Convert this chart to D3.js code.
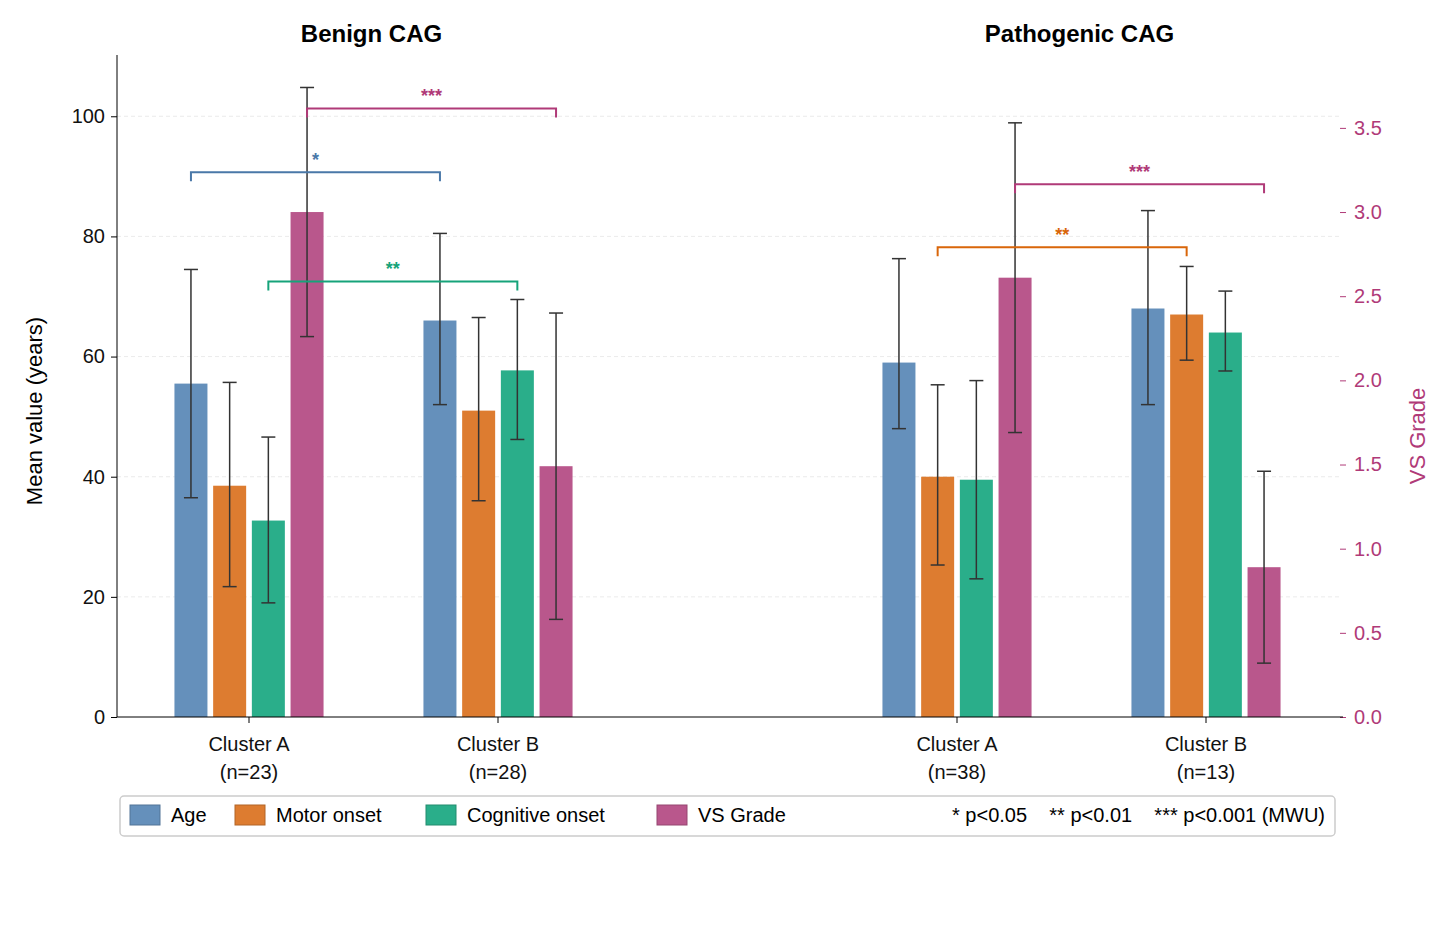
<!DOCTYPE html>
<html>
<head>
<meta charset="utf-8">
<script src="https://cdn.jsdelivr.net/npm/d3@7/dist/d3.min.js"></script>
<style>
  body { margin: 0; background: #fff; font-family: "Liberation Sans", Arial, sans-serif; }
</style>
</head>
<body>
<svg id="chart" width="1436" height="925"></svg>
<script>
const panels = ["Benign CAG", "Pathogenic CAG"];
const clusters = ["Cluster A", "Cluster B"];
const groupNs = [[23, 28], [38, 13]];
const measures = ["Age", "Motor onset", "Cognitive onset"];
const colors = ["#6590bb", "#dd7c30", "#2aae8a", "#b9578c"];

// [panel][cluster] -> [mean, low, high] for the left-axis measures
const ageVals   = [[[55.5, 36.5, 74.5], [66.0, 52.0, 80.5]], [[59.0, 48.0, 76.3], [68.0, 52.0, 84.3]]];
const motorVals = [[[38.5, 21.7, 55.7], [51.0, 36.0, 66.5]], [[40.0, 25.3, 55.3], [67.0, 59.4, 75.0]]];
const cogVals   = [[[32.7, 19.0, 46.6], [57.7, 46.2, 69.5]], [[39.5, 23.0, 56.0], [64.0, 57.6, 70.9]]];
// VS grade (right axis): [mean, sd]
const vsVals    = [[[3.00, 0.74], [1.49, 0.91]], [[2.61, 0.92], [0.89, 0.57]]];

// significance brackets: panel, bar index, level (left units), label, colour
const brackets = [
  {panel: 0, bar: 0, level: 90.7, label: "*",   color: "#4a78a8"},
  {panel: 0, bar: 2, level: 72.5, label: "**",  color: "#16a37a"},
  {panel: 0, bar: 3, level: 101.3, label: "***", color: "#b03a78"},
  {panel: 1, bar: 1, level: 78.2, label: "**",  color: "#d9660a"},
  {panel: 1, bar: 3, level: 88.7, label: "***", color: "#b03a78"}
];
const leftTicks = [0, 20, 40, 60, 80, 100];
const rightTicks = [0, 0.5, 1, 1.5, 2, 2.5, 3, 3.5];

const svg = d3.select("#chart");
const pLeft = 117, pRight = 1340, pTop = 55, pBottom = 717;

const y = d3.scaleLinear().domain([0, 110.2]).range([pBottom, pTop]);
const yR = d3.scaleLinear().domain([0, 3.933]).range([pBottom, pTop]);
const centers = [249, 498, 957, 1206];
const bw = 33, step = 38.7;
const barX = (g, i) => centers[g] + (i - 1.5) * step;

// grid
svg.append("g").selectAll("line").data(leftTicks.slice(1)).join("line")
  .attr("x1", pLeft).attr("x2", pRight).attr("y1", d => y(d)).attr("y2", d => y(d))
  .attr("stroke", "#e6e6e6").attr("stroke-dasharray", "4,3").attr("stroke-width", 0.8);

// bars
const rows = [];
[ageVals, motorVals, cogVals].forEach((vals, i) => {
  vals.forEach((p, pi) => p.forEach((v, ci) => {
    rows.push({g: pi * 2 + ci, i, mean: y(v[0]), lo: y(v[1]), hi: y(v[2])});
  }));
});
vsVals.forEach((p, pi) => p.forEach((v, ci) => {
  rows.push({g: pi * 2 + ci, i: 3, mean: yR(v[0]), lo: yR(Math.max(0, v[0] - v[1])), hi: yR(v[0] + v[1])});
}));

svg.append("g").selectAll("rect").data(rows).join("rect")
  .attr("x", d => barX(d.g, d.i) - bw / 2).attr("width", bw)
  .attr("y", d => d.mean).attr("height", d => pBottom - d.mean)
  .attr("fill", d => colors[d.i]);

const eb = svg.append("g").attr("stroke", "#333").attr("stroke-width", 1.5);
rows.forEach(d => {
  const cx = barX(d.g, d.i);
  eb.append("line").attr("x1", cx).attr("x2", cx).attr("y1", d.lo).attr("y2", d.hi);
  [d.lo, d.hi].forEach(v => eb.append("line").attr("x1", cx - 7).attr("x2", cx + 7).attr("y1", v).attr("y2", v));
});

// brackets
brackets.forEach(b => {
  const x1 = barX(b.panel * 2, b.bar), x2 = barX(b.panel * 2 + 1, b.bar), yy = y(b.level);
  svg.append("path").attr("d", `M${x1},${yy + 9}V${yy}H${x2}V${yy + 9}`)
    .attr("fill", "none").attr("stroke", b.color).attr("stroke-width", 2);
  svg.append("text").attr("x", (x1 + x2) / 2).attr("y", yy - 6).attr("text-anchor", "middle")
    .attr("fill", b.color).attr("font-size", 18).attr("font-weight", "bold").text(b.label);
});

// left axis
const la = svg.append("g").attr("transform", `translate(${pLeft},0)`)
  .call(d3.axisLeft(y).tickValues(leftTicks).tickSize(6).tickPadding(6));
la.selectAll("text").attr("font-size", 20).attr("fill", "#111").attr("font-family", "Liberation Sans, Arial");
la.select(".domain").attr("d", `M0,${pTop}V${pBottom}`);
svg.append("text").attr("transform", `translate(42,${(pTop + pBottom) / 2 + 25}) rotate(-90)`)
  .attr("text-anchor", "middle").attr("font-size", 22).text("Mean value (years)");

// right axis
const ra = svg.append("g").attr("transform", `translate(${pRight},0)`)
  .call(d3.axisRight(yR).tickValues(rightTicks).tickFormat(d3.format(".1f")).tickSize(6).tickPadding(8));
ra.select(".domain").remove();
ra.selectAll("line").attr("stroke", "#b03a78");
ra.selectAll("text").attr("font-size", 20).attr("fill", "#b03a78").attr("font-family", "Liberation Sans, Arial");
svg.append("text").attr("transform", `translate(1425,${(pTop + pBottom) / 2 + 50}) rotate(-90)`)
  .attr("text-anchor", "middle").attr("font-size", 22).attr("fill", "#b03a78").text("VS Grade");

// x axis
svg.append("line").attr("x1", pLeft).attr("x2", pRight + 3).attr("y1", pBottom).attr("y2", pBottom).attr("stroke", "#000");
centers.forEach((c, g) => {
  svg.append("line").attr("x1", c).attr("x2", c).attr("y1", pBottom).attr("y2", pBottom + 6).attr("stroke", "#000");
  const t = svg.append("text").attr("text-anchor", "middle").attr("font-size", 20).attr("fill", "#111");
  t.append("tspan").attr("x", c).attr("y", 751).text(clusters[g % 2]);
  t.append("tspan").attr("x", c).attr("y", 779).text(`(n=${groupNs[Math.floor(g / 2)][g % 2]})`);
});

// panel titles
panels.forEach((p, i) => {
  svg.append("text").attr("x", (centers[i * 2] + centers[i * 2 + 1]) / 2 - 2).attr("y", 42)
    .attr("text-anchor", "middle").attr("font-size", 24).attr("font-weight", "bold").text(p);
});

// legend
const lg = svg.append("g");
lg.append("rect").attr("x", 120).attr("y", 796).attr("width", 1215).attr("height", 40).attr("rx", 4)
  .attr("fill", "#fff").attr("stroke", "#ccc").attr("stroke-width", 1.5);
const legendNames = measures.concat(["VS Grade"]);
const legendX = [130, 235, 426, 657];
legendNames.forEach((n, i) => {
  lg.append("rect").attr("x", legendX[i]).attr("y", 805).attr("width", 30).attr("height", 20)
    .attr("fill", colors[i]).attr("stroke", d3.color(colors[i]).darker(0.6));
  lg.append("text").attr("x", legendX[i] + 41).attr("y", 822).attr("font-size", 20).text(n);
});
lg.append("text").attr("x", 1325).attr("y", 822).attr("text-anchor", "end").attr("font-size", 20)
  .attr("xml:space", "preserve").text("* p<0.05    ** p<0.01    *** p<0.001 (MWU)");
</script>
</body>
</html>
